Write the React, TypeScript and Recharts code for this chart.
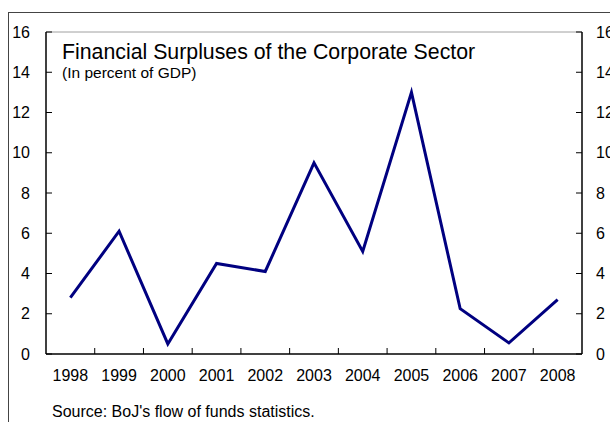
import React from 'react'
import { LineChart, Line, XAxis, YAxis, ReferenceLine } from 'recharts'

document.body.style.margin = '0'

const years = ['1998', '1999', '2000', '2001', '2002', '2003', '2004', '2005', '2006', '2007', '2008']
const surplus = [2.8, 6.1, 0.5, 4.5, 4.1, 9.5, 5.1, 13.0, 2.25, 0.55, 2.7]
const yTicks = [0, 2, 4, 6, 8, 10, 12, 14, 16]

const FONT = '"Liberation Sans", Arial, sans-serif'

const data = years.map((y, i) => ({ idx: i, year: y, value: surplus[i] }))

// labels on whole indexes, little tick marks on the half steps between years
const xTicks: number[] = []
for (let i = 0; i <= years.length - 2; i++) {
  xTicks.push(i)
  xTicks.push(i + 0.5)
}
xTicks.push(years.length - 1)

function XTick(props: any) {
  const { x, y, payload } = props
  const v = payload.value as number
  if (Number.isInteger(v)) {
    return (
      <text x={x} y={y + 16} dy="0.71em" textAnchor="middle" fill="#000" fontSize={16} fontFamily={FONT}>
        {years[v]}
      </text>
    )
  }
  return <line x1={x} x2={x} y1={y} y2={y - 6} stroke="#000" strokeWidth={1} />
}

export default function App() {
  return (
    <div style={{ position: 'relative', width: 610, height: 422, background: '#fff', overflow: 'hidden' }}>
      <div style={{ position: 'absolute', left: 8, top: 12, width: 602, height: 1, background: '#444' }} />
      <div style={{ position: 'absolute', left: 8, top: 12, width: 1, height: 410, background: '#444' }} />
      <LineChart width={610} height={422} data={data} margin={{ top: 32, right: 0, bottom: 0, left: 6 }}>
        <XAxis
          dataKey="idx"
          type="number"
          domain={[-0.5, years.length - 0.5]}
          ticks={xTicks}
          interval={0}
          tick={<XTick />}
          tickLine={false}
          tickSize={0}
          tickMargin={0}
          height={68}
          axisLine={{ stroke: '#000', strokeWidth: 1.5 }}
        />
        <YAxis
          yAxisId="left"
          type="number"
          domain={[0, 16]}
          ticks={yTicks}
          width={40}
          tickSize={-6}
          tickMargin={22}
          tick={{ fill: '#000', fontSize: 16, fontFamily: FONT }}
          tickLine={{ stroke: '#000' }}
          axisLine={{ stroke: '#000', strokeWidth: 1.5 }}
        />
        <YAxis
          yAxisId="right"
          orientation="right"
          type="number"
          domain={[0, 16]}
          allowDataOverflow
          ticks={yTicks}
          width={28}
          tickSize={-6}
          tickMargin={20}
          tick={{ fill: '#000', fontSize: 16, fontFamily: FONT }}
          tickLine={{ stroke: '#000' }}
          axisLine={{ stroke: '#000', strokeWidth: 1.5 }}
        />
        <ReferenceLine yAxisId="left" y={16} stroke="#a0a0a0" strokeWidth={1} />
        <Line
          yAxisId="left"
          dataKey="value"
          stroke="#000080"
          strokeWidth={3}
          dot={false}
          isAnimationActive={false}
        />
      </LineChart>
      <div style={{ position: 'absolute', left: 62, top: 42, fontFamily: FONT, fontSize: 21.3, lineHeight: 1, color: '#000', whiteSpace: 'nowrap' }}>
        Financial Surpluses of the Corporate Sector
      </div>
      <div style={{ position: 'absolute', left: 62, top: 65, fontFamily: FONT, fontSize: 15.5, lineHeight: 1, color: '#000', whiteSpace: 'nowrap' }}>
        (In percent of GDP)
      </div>
      <div style={{ position: 'absolute', left: 52, top: 404, fontFamily: FONT, fontSize: 16, lineHeight: 1, color: '#000', whiteSpace: 'nowrap' }}>
        Source: BoJ's flow of funds statistics.
      </div>
    </div>
  )
}
